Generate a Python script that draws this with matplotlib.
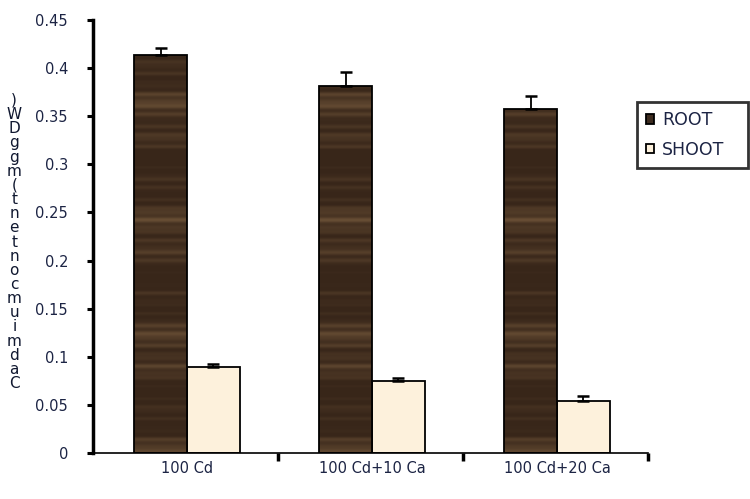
import numpy as np
import matplotlib
matplotlib.use("Agg")
import matplotlib.pyplot as plt

treatments = ["100 Cd", "100 Cd+10 Ca", "100 Cd+20 Ca"]
root = [0.414, 0.381, 0.357]
root_err = [0.007, 0.015, 0.014]
shoot = [0.089, 0.075, 0.054]
shoot_err = [0.004, 0.003, 0.005]
ylabel = "Cadmium content (mg g DW)"

plt.rcParams["font.family"] = ["DejaVu Sans"]
text_col = "#1c2444"

fig = plt.figure(figsize=(7.5, 4.99), dpi=100)
ax = fig.add_axes([0.124, 0.092, 0.74, 0.868])

x = np.arange(len(treatments)) + 0.508
w = 0.286

root_bars = ax.bar(x - w / 2, root, w, color="#3d2b1f", edgecolor="black",
                   linewidth=1.3, label="ROOT", zorder=2)
shoot_bars = ax.bar(x + w / 2, shoot, w, color="#fdf1dc", edgecolor="black",
                    linewidth=1.3, label="SHOOT", zorder=2)

# soft wood grain inside the root bars
rows = np.linspace(0, 1, 600)
grain = (np.sin(rows * 260) * 0.35 + np.sin(rows * 71 + 0.7) * 0.4
         + np.sin(rows * 23 + 2.1) * 0.5 + np.sin(rows * 410 + 1.1) * 0.2)
grain = np.clip((grain + 0.6) / 1.9, 0, 1) ** 1.6
dark = np.array([0.22, 0.15, 0.10])
light = np.array([0.52, 0.40, 0.27])
tex = dark[None, None, :] + (light - dark)[None, None, :] * grain[:, None, None] * 0.6
tex = np.repeat(tex, 4, axis=1)
for b in root_bars:
    im = ax.imshow(tex, extent=[b.get_x(), b.get_x() + b.get_width(), 0, 0.45],
                   aspect="auto", origin="lower", zorder=2.5,
                   interpolation="bilinear")
    im.set_clip_path(b)
    b.set_facecolor("none")
    b.set_zorder(3)

# upward-only error bars
ax.errorbar(x - w / 2, root, yerr=[[0] * 3, root_err], fmt="none",
            ecolor="black", elinewidth=1.3, capsize=4.5, capthick=1.8, zorder=4)
ax.errorbar(x + w / 2, shoot, yerr=[[0] * 3, shoot_err], fmt="none",
            ecolor="black", elinewidth=1.3, capsize=4.5, capthick=1.8, zorder=4)

ax.set_xlim(0, 3)
ax.set_ylim(0, 0.45)
ax.set_yticks(np.arange(0, 0.451, 0.05))
ax.set_yticklabels(["0", "0.05", "0.1", "0.15", "0.2", "0.25", "0.3", "0.35", "0.4", "0.45"])
ax.tick_params(axis="y", direction="out", length=4, width=2.2, labelsize=10.5,
               labelcolor=text_col, pad=14)

ax.set_xticks([1, 2, 3])
ax.set_xticklabels([])
ax.set_xticks(x, minor=True)
ax.set_xticklabels(treatments, minor=True)
ax.tick_params(axis="x", which="major", direction="out", length=6, width=2.5)
ax.tick_params(axis="x", which="minor", length=0, labelsize=10.5,
               labelcolor=text_col, pad=6)

ax.spines["top"].set_visible(False)
ax.spines["right"].set_visible(False)
ax.spines["left"].set_linewidth(2.5)
ax.spines["bottom"].set_linewidth(1.2)

# stacked y label, one character per line
fig.text(0.019, 0.515, "\n".join(reversed(ylabel.replace(" ", ""))),
         ha="center", va="center", fontsize=11, linespacing=0.93,
         color="#101830")

leg = ax.legend(loc="upper left", bbox_to_anchor=(0.849, 0.665, 0.148, 0.131),
                bbox_transform=fig.transFigure, mode="expand", frameon=True,
                fancybox=False, edgecolor="black", fontsize=12.5,
                handlelength=0.45, handleheight=0.45, handletextpad=0.45,
                borderpad=0.55, labelspacing=0.65, borderaxespad=0)
leg.get_frame().set_linewidth(2.0)
leg.legend_handles[0].set_facecolor("#3d2b1f")
for t in leg.get_texts():
    t.set_color(text_col)

fig.savefig("out.png", dpi=100)
